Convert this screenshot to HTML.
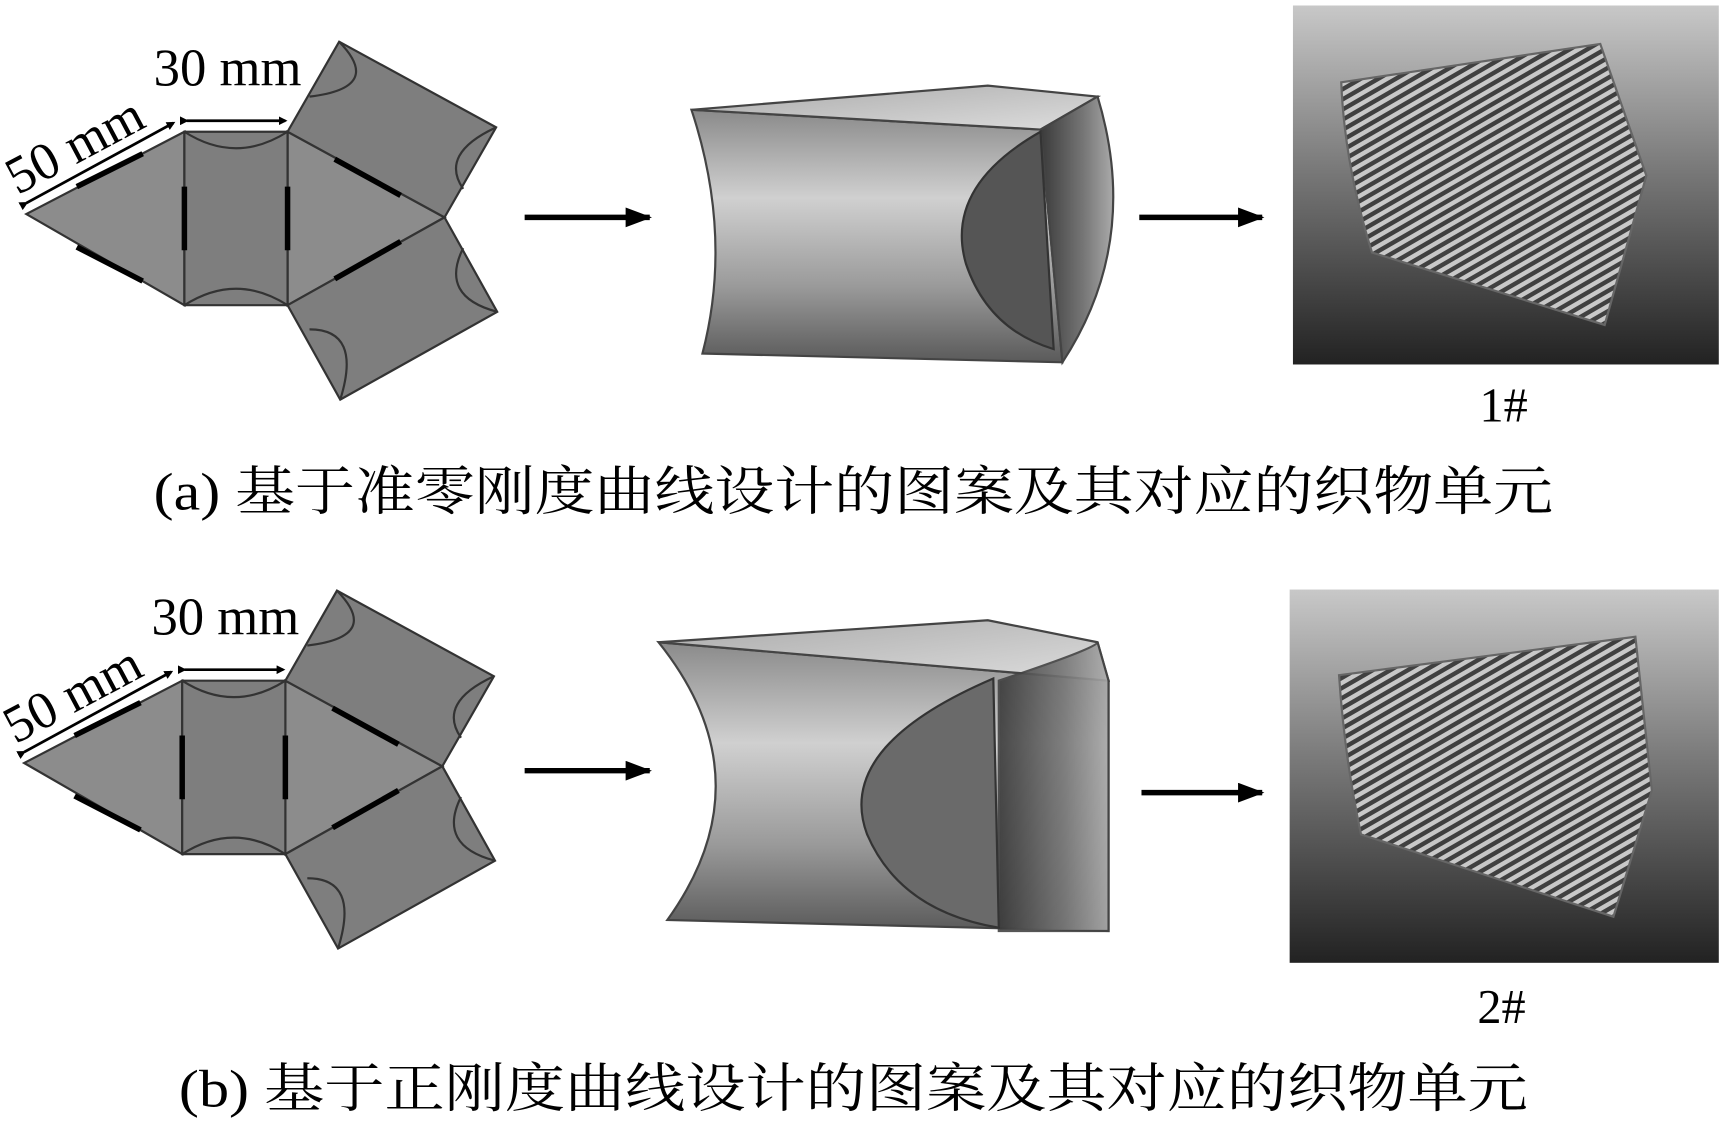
<!DOCTYPE html>
<html><head><meta charset="utf-8"><style>
html,body{margin:0;padding:0;background:#fff;}
svg{display:block}
</style></head><body>
<svg width="1721" height="1122" viewBox="0 0 1568 1022" preserveAspectRatio="none" xmlns="http://www.w3.org/2000/svg">
<defs>
<linearGradient id="g1" x1="0" y1="0" x2="0" y2="1">
<stop offset="0" stop-color="#8a8a8a"/><stop offset="0.35" stop-color="#d0d0d0"/><stop offset="0.7" stop-color="#9a9a9a"/><stop offset="1" stop-color="#5a5a5a"/></linearGradient>
<linearGradient id="g2" x1="0" y1="0" x2="1" y2="0">
<stop offset="0" stop-color="#3a3a3a"/><stop offset="0.6" stop-color="#777"/><stop offset="1" stop-color="#aaa"/></linearGradient>
<linearGradient id="g3" x1="0" y1="0" x2="1" y2="1">
<stop offset="0" stop-color="#aaa"/><stop offset="1" stop-color="#ddd"/></linearGradient>
<pattern id="tw" width="8" height="8" patternUnits="userSpaceOnUse" patternTransform="rotate(-30)">
<rect width="8" height="8" fill="#c8c8c8"/><rect width="8" height="4" fill="#404040"/></pattern>
<linearGradient id="bg" x1="0" y1="0" x2="0" y2="1">
<stop offset="0" stop-color="#c8c8c8"/><stop offset="0.45" stop-color="#7a7a7a"/><stop offset="1" stop-color="#222"/></linearGradient>
<marker id="ah" markerWidth="8" markerHeight="8" refX="6" refY="4" orient="auto" markerUnits="userSpaceOnUse"><path d="M0,0 L8,4 L0,8z" fill="#000"/></marker>
<marker id="bh" markerWidth="24" markerHeight="18" refX="22" refY="9" orient="auto" markerUnits="userSpaceOnUse"><path d="M0,0 L24,9 L0,18z" fill="#000"/></marker>
<g id="net">
 <polygon points="168,120 24,195 168,278" fill="#8c8c8c" stroke="#333" stroke-width="2"/>
 <polygon points="262,120 405,198 262,278" fill="#8c8c8c" stroke="#333" stroke-width="2"/>
 <polygon points="168,120 262,120 262,278 168,278" fill="#7e7e7e" stroke="#333" stroke-width="2"/>
 <polygon points="262,120 309,38 452,116 405,198" fill="#7e7e7e" stroke="#333" stroke-width="2"/>
 <polygon points="262,278 405,198 453,284 310,364" fill="#7e7e7e" stroke="#333" stroke-width="2"/>
 <path d="M168,120 Q215,150 262,120 M168,278 Q215,248 262,278" fill="none" stroke="#333" stroke-width="2"/>
 <path d="M309,38 Q350,80 282,88 M452,116 Q400,140 422,172" fill="none" stroke="#333" stroke-width="2"/>
 <path d="M453,284 Q400,270 422,226 M310,364 Q330,300 282,300" fill="none" stroke="#333" stroke-width="2"/>
 <g stroke="#000" stroke-width="5">
 <line x1="168" y1="170" x2="168" y2="228"/><line x1="262" y1="170" x2="262" y2="228"/>
 <line x1="70" y1="170" x2="130" y2="140"/><line x1="70" y1="225" x2="130" y2="256"/>
 <line x1="305" y1="145" x2="365" y2="178"/><line x1="305" y1="254" x2="365" y2="220"/></g>
 <line x1="24" y1="185" x2="158" y2="112" stroke="#000" stroke-width="2.5" marker-start="url(#ah)" marker-end="url(#ah)"/>
 <line x1="170" y1="110" x2="260" y2="110" stroke="#000" stroke-width="2.5" marker-start="url(#ah)" marker-end="url(#ah)"/>
 <text x="140" y="78" font-family="Liberation Serif,serif" font-size="48">30 mm</text>
 <text x="0" y="0" font-family="Liberation Serif,serif" font-size="48" transform="translate(16,178) rotate(-28)">50 mm</text>
</g>
</defs>

<use href="#net"/>
<line x1="478" y1="198" x2="592" y2="198" stroke="#000" stroke-width="5" marker-end="url(#bh)"/>
<path d="M630,100 L948,118 L968,330 L640,322 Q668,215 630,100z" fill="url(#g1)" stroke="#444" stroke-width="2"/>
<path d="M630,100 L900,78 L1000,88 L948,118z" fill="url(#g3)" stroke="#444" stroke-width="2"/>
<path d="M948,118 L1000,88 Q1040,220 968,330z" fill="url(#g2)" stroke="#444" stroke-width="2"/>
<path d="M948,120 Q860,170 880,240 Q900,300 960,318z" fill="#555" stroke="#333" stroke-width="2"/>
<line x1="1038" y1="198" x2="1150" y2="198" stroke="#000" stroke-width="5" marker-end="url(#bh)"/>
<rect x="1178" y="5" width="388" height="327" fill="url(#bg)"/>
<path d="M1222,75 L1458,40 L1500,160 L1462,296 L1250,230 Q1225,150 1222,75z" fill="url(#tw)" stroke="#666" stroke-width="2"/>
<text x="1370" y="384" text-anchor="middle" font-family="Liberation Serif,serif" font-size="44">1#</text>
<text x="140" y="464" textLength="1275" lengthAdjust="spacingAndGlyphs" font-family="Liberation Serif,'Noto Serif CJK SC',serif" font-size="48">(a) 基于准零刚度曲线设计的图案及其对应的织物单元</text>

<use href="#net" transform="translate(-2,500)"/>
<line x1="478" y1="702" x2="592" y2="702" stroke="#000" stroke-width="5" marker-end="url(#bh)"/>
<path d="M600,585 L1010,620 L1010,848 L608,838 Q700,710 600,585z" fill="url(#g1)" stroke="#444" stroke-width="2"/>
<path d="M600,585 L900,565 L1000,585 L1010,620z" fill="url(#g3)" stroke="#444" stroke-width="2"/>
<path d="M910,620 Q1000,590 1000,585 L1010,620 L1010,848 L910,848z" fill="url(#g2)" stroke="#444" stroke-width="2" opacity="0.9"/>
<path d="M905,618 Q760,680 790,760 Q820,830 910,845z" fill="#6a6a6a" stroke="#333" stroke-width="2"/>
<line x1="1040" y1="722" x2="1150" y2="722" stroke="#000" stroke-width="5" marker-end="url(#bh)"/>
<rect x="1175" y="537" width="391" height="340" fill="url(#bg)"/>
<path d="M1220,615 L1490,580 L1505,720 L1470,835 L1240,760 Q1225,690 1220,615z" fill="url(#tw)" stroke="#666" stroke-width="2"/>
<text x="1368" y="932" text-anchor="middle" font-family="Liberation Serif,serif" font-size="44">2#</text>
<text x="163" y="1008" textLength="1229" lengthAdjust="spacingAndGlyphs" font-family="Liberation Serif,'Noto Serif CJK SC',serif" font-size="48">(b) 基于正刚度曲线设计的图案及其对应的织物单元</text>
</svg>
</body></html>
